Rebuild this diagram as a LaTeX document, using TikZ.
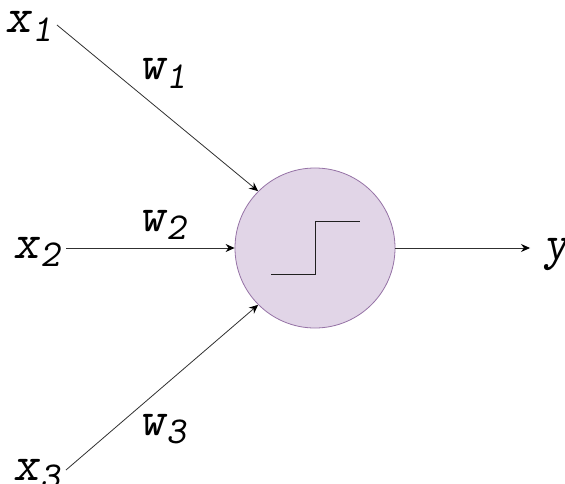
\documentclass[tikz,border=0pt]{standalone}
\usepackage{fontspec}
\usetikzlibrary{arrows.meta}
\newcommand{\lbltxt}[3][2pt]{\fontsize{49pt}{49pt}\ttfamily\slshape\hbox{\kern-0.06em #2\kern #1\raisebox{-8.5pt}{\fontsize{38pt}{38pt}\selectfont #3}}}
\tikzset{
  x=1pt,y=-1pt,
  neuron/.style={circle,draw=neuronline,fill=neuronfill,line width=0.8pt,minimum size=160pt,inner sep=0pt},
  link/.style={draw=linkc,line width=0.8pt,-{Stealth[length=9pt,width=8pt,inset=3pt,color=black]}},
  steppath/.style={draw=stepc,line width=0.9pt},
  lab/.style={inner sep=0pt,outer sep=0pt,anchor=base west,text=black}
}
\definecolor{neuronfill}{HTML}{E1D5E7}
\definecolor{neuronline}{HTML}{9673A6}
\definecolor{linkc}{HTML}{303030}
\definecolor{stepc}{HTML}{202020}
\begin{document}
\begin{tikzpicture}
\path[use as bounding box,clip] (0,0) rectangle (565,484);
\node[neuron] (n) at (315,248) {};
\node[lab] (x1) at (8,33) {\lbltxt{x}{1}};
\node[lab] (x2) at (16,258) {\lbltxt{x}{2}};
\node[lab] (x3) at (16,480) {\lbltxt{x}{3}};
\node[lab] (w1) at (142,80) {\lbltxt{w}{1}};
\node[lab] (w2) at (142,231) {\lbltxt{w}{2}};
\node[lab] (w3) at (142,435) {\lbltxt{w}{3}};
\node[lab] (y) at (546,259) {\lbltxt{y}{}};
\coordinate (s1) at (57,25);
\coordinate (s2) at (66,248);
\coordinate (s3) at (66,470);
\coordinate (e) at (530,248);
\draw[link] (s1) -- (n.135);
\draw[link] (s2) -- (n.west);
\draw[link] (s3) -- (n.225);
\draw[link] (n.east) -- (e);
\coordinate (a) at (271,274.5);
\coordinate (b) at (315,274.5);
\coordinate (c) at (315,221);
\coordinate (d) at (360,221);
\draw[steppath] (a) -- (b) -- (c) -- (d);
\end{tikzpicture}
\end{document}
